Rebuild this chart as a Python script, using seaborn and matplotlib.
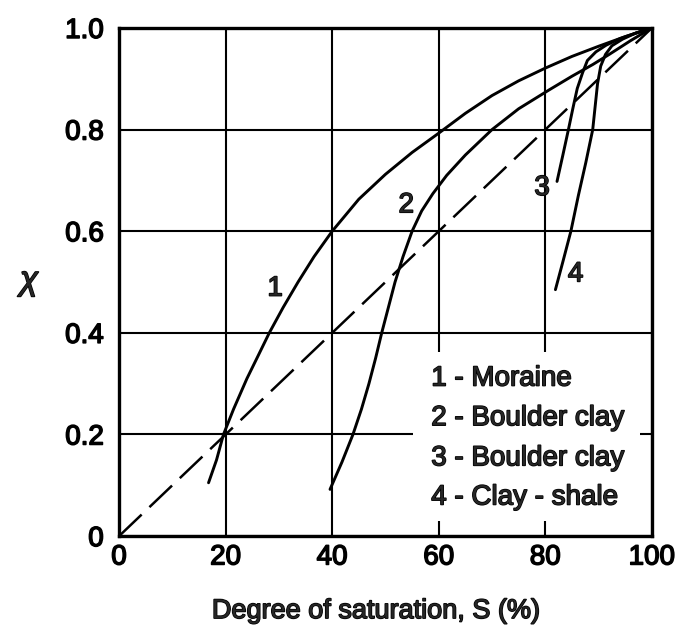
import matplotlib
matplotlib.use("Agg")
import matplotlib.pyplot as plt
import matplotlib.patheffects as pe
from matplotlib.patches import Rectangle
import seaborn as sns
import pandas as pd

# Degree of saturation S (%) and effective stress parameter chi for each soil
s_moraine = [16.8, 18.3, 19.6, 21.5, 24.0, 26.2, 28.2, 30.8, 33.6, 36.6, 40.0,
             45.0, 50.0, 55.0, 60.0, 65.0, 70.0, 75.0, 80.0, 85.0, 90.0, 95.0, 100.0]
chi_moraine = [0.105, 0.15, 0.2, 0.25, 0.31, 0.357, 0.4, 0.45, 0.5, 0.55, 0.6,
               0.663, 0.712, 0.755, 0.793, 0.832, 0.867, 0.896, 0.921, 0.944, 0.964, 0.983, 1.0]

s_boulder1 = [39.6, 41.85, 43.9, 45.5, 46.9, 48.15, 49.3, 50.55, 51.8, 53.3, 55.0, 56.8,
              58.9, 61.5, 65.0, 70.0, 75.0, 80.7, 85.0, 88.9, 92.0, 96.0, 100.0]
chi_boulder1 = [0.092, 0.146, 0.2, 0.25, 0.3, 0.35, 0.4, 0.45, 0.5, 0.55, 0.6, 0.64,
                0.674, 0.71, 0.75, 0.8, 0.841, 0.878, 0.905, 0.928, 0.948, 0.975, 1.0]

s_boulder2 = [82.2, 83.3, 84.4, 85.2, 86.0, 87.0, 87.9, 89.5, 91.4, 94.0, 97.0, 100.0]
chi_boulder2 = [0.698, 0.75, 0.803, 0.843, 0.881, 0.912, 0.936, 0.953, 0.966, 0.979, 0.99, 1.0]

s_shale = [81.9, 83.3, 84.8, 86.2, 87.6, 88.9, 89.4, 89.8, 90.4, 91.3, 92.5, 94.5, 97.0, 100.0]
chi_shale = [0.485, 0.54, 0.6, 0.67, 0.735, 0.8, 0.85, 0.89, 0.925, 0.948, 0.965, 0.978, 0.99, 1.0]

# chi = S line
s_line = [0, 100]
chi_line = [0.0, 1.0]

curve_tags = ["1", "2", "3", "4"]
tag_s = [29.3, 53.9, 79.4, 85.7]
tag_chi = [0.487, 0.651, 0.685, 0.515]

legend_labels = ["1 - Moraine", "2 - Boulder clay", "3 - Boulder clay", "4 - Clay - shale"]

x_ticks = [0, 20, 40, 60, 80, 100]
y_ticks = [0.0, 0.2, 0.4, 0.6, 0.8, 1.0]
y_tick_labels = ["0", "0.2", "0.4", "0.6", "0.8", "1.0"]

sns.set_style("white")
plt.rcParams["font.family"] = ["Liberation Sans", "DejaVu Sans"]

FS = 20
ink = [pe.withStroke(linewidth=1.1, foreground="black")]

fig = plt.figure(figsize=(6.92, 6.3), dpi=100)
ax = fig.add_axes([0.172, 0.149, 0.770, 0.8066])

curves = [(s_moraine, chi_moraine), (s_boulder1, chi_boulder1),
          (s_boulder2, chi_boulder2), (s_shale, chi_shale)]
for s_vals, chi_vals in curves:
    df = pd.DataFrame({"S": s_vals, "chi": chi_vals})
    sns.lineplot(data=df, x="S", y="chi", sort=False, estimator=None,
                 color="black", lw=2.1, ax=ax, zorder=3)

df_line = pd.DataFrame({"S": s_line, "chi": chi_line})
sns.lineplot(data=df_line, x="S", y="chi", sort=False, estimator=None,
             color="black", lw=1.8, ax=ax, zorder=3, linestyle=(0, (12.5, 4.3)))

ax.set_xlim(0, 100)
ax.set_ylim(0, 1.0)
ax.set_xticks(x_ticks)
ax.set_xticklabels([str(v) for v in x_ticks])
ax.set_yticks(y_ticks)
ax.set_yticklabels(y_tick_labels)
ax.tick_params(axis="both", length=0, labelsize=FS, colors="black")
ax.tick_params(axis="x", pad=6)
ax.tick_params(axis="y", pad=11)
for lab in ax.get_xticklabels() + ax.get_yticklabels():
    lab.set_path_effects(ink)

ax.grid(True, color="black", lw=1.5)
ax.set_axisbelow(True)
for sp in ax.spines.values():
    sp.set_color("black")
    sp.set_linewidth(2.4)
    sp.set_visible(True)

# blank panel behind the key
ax.add_patch(Rectangle((55.2, 0.03), 42.5, 0.332, facecolor="white",
                       edgecolor="none", zorder=1.8))

for t, sx, cy in zip(curve_tags, tag_s, tag_chi):
    ax.text(sx, cy, t, fontsize=FS, ha="center", va="center", zorder=4,
            path_effects=ink)

key_y = [0.310, 0.232, 0.153, 0.076]
for lab, ky in zip(legend_labels, key_y):
    ax.text(58.6, ky, lab, fontsize=FS, ha="left", va="center", zorder=4,
            path_effects=ink)

ax.set_xlabel("Degree of saturation, S (%)", fontsize=FS - 0.5, path_effects=ink)
ax.xaxis.set_label_coords(0.483, -0.122)
ax.set_ylabel("χ", fontsize=FS + 4, rotation=0, style="italic",
              path_effects=ink, va="center", ha="center")
ax.yaxis.set_label_coords(-0.169, 0.502)

fig.savefig("out.png", dpi=100, facecolor="white")
